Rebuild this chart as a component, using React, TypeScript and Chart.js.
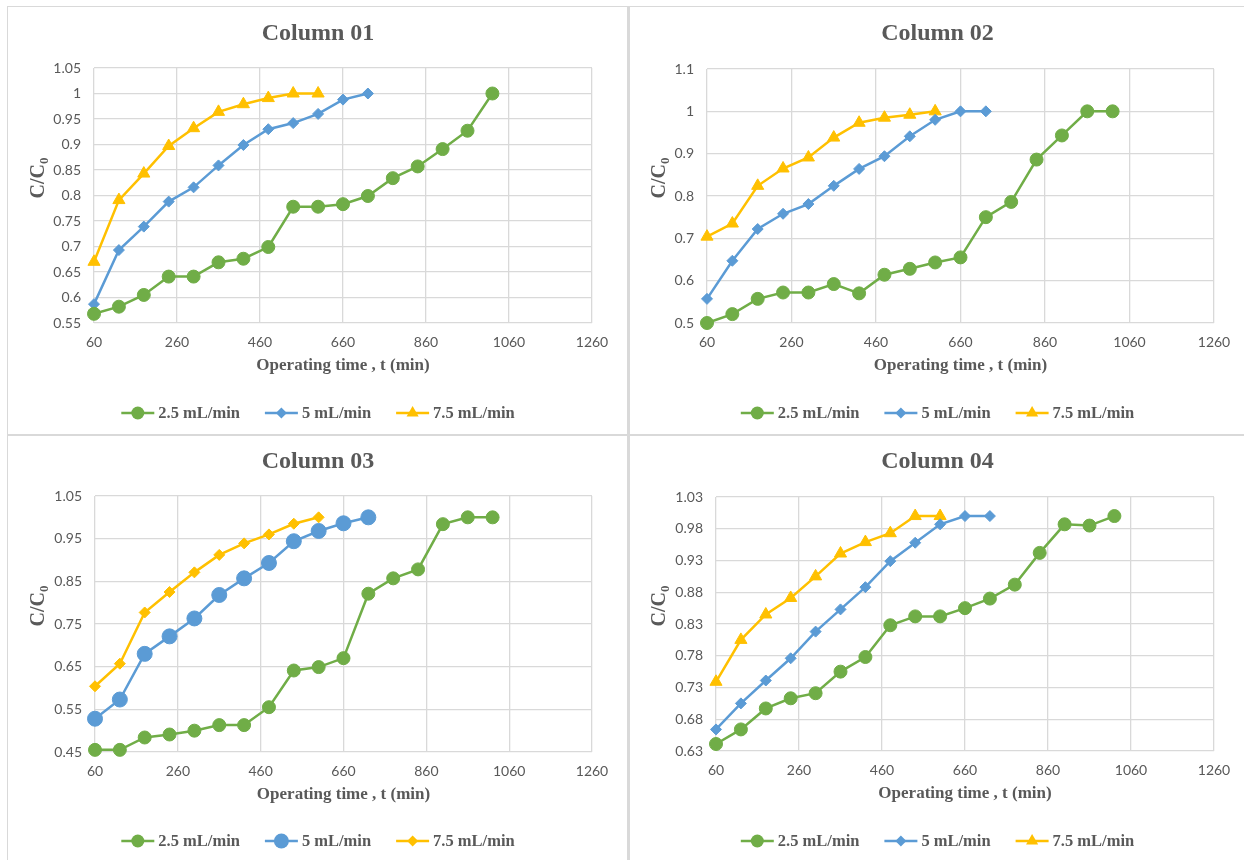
import React, { useEffect, useRef } from "react";
import { Chart, registerables } from "chart.js";

Chart.register(...registerables);

// Sampling times (min), shared by every column
const timeMin = [60, 120, 180, 240, 300, 360, 420, 480, 540, 600, 660, 720, 780, 840, 900, 960, 1020];
const xTickValues = [60, 260, 460, 660, 860, 1060, 1260];
const flowLabels = ["2.5 mL/min", "5 mL/min", "7.5 mL/min"];

// Column 01 — C/C0 per flow rate
const col01Flow25 = [0.568, 0.582, 0.605, 0.641, 0.641, 0.669, 0.676, 0.699, 0.778, 0.778, 0.783, 0.799, 0.834, 0.857, 0.891, 0.927, 1.0];
const col01Flow5 = [0.587, 0.693, 0.739, 0.788, 0.816, 0.859, 0.899, 0.93, 0.942, 0.96, 0.988, 1.0];
const col01Flow75 = [0.67, 0.791, 0.843, 0.897, 0.932, 0.964, 0.979, 0.991, 1.0, 1.0];
const col01YTicks = [0.55, 0.6, 0.65, 0.7, 0.75, 0.8, 0.85, 0.9, 0.95, 1, 1.05];

// Column 02
const col02Flow25 = [0.5, 0.521, 0.557, 0.572, 0.572, 0.592, 0.57, 0.614, 0.628, 0.643, 0.655, 0.75, 0.786, 0.886, 0.943, 1.0, 1.0];
const col02Flow5 = [0.557, 0.647, 0.722, 0.758, 0.781, 0.824, 0.864, 0.894, 0.941, 0.98, 1.0, 1.0];
const col02Flow75 = [0.704, 0.735, 0.824, 0.865, 0.891, 0.938, 0.973, 0.985, 0.992, 1.0];
const col02YTicks = [0.5, 0.6, 0.7, 0.8, 0.9, 1, 1.1];

// Column 03
const col03Flow25 = [0.455, 0.455, 0.484, 0.491, 0.5, 0.513, 0.513, 0.555, 0.641, 0.649, 0.67, 0.821, 0.857, 0.878, 0.984, 1.0, 1.0];
const col03Flow5 = [0.528, 0.573, 0.68, 0.721, 0.763, 0.818, 0.857, 0.893, 0.944, 0.968, 0.986, 1.0];
const col03Flow75 = [0.604, 0.657, 0.777, 0.825, 0.871, 0.912, 0.939, 0.96, 0.985, 1.0];
const col03YTicks = [0.45, 0.55, 0.65, 0.75, 0.85, 0.95, 1.05];

// Column 04
const col04Flow25 = [0.641, 0.664, 0.697, 0.713, 0.721, 0.755, 0.778, 0.828, 0.842, 0.842, 0.855, 0.87, 0.892, 0.942, 0.987, 0.985, 1.0];
const col04Flow5 = [0.664, 0.705, 0.741, 0.776, 0.818, 0.853, 0.888, 0.929, 0.958, 0.987, 1.0, 1.0];
const col04Flow75 = [0.739, 0.805, 0.845, 0.871, 0.905, 0.941, 0.959, 0.973, 1.0, 1.0];
const col04YTicks = [0.63, 0.68, 0.73, 0.78, 0.83, 0.88, 0.93, 0.98, 1.03];

const SERIES_COLORS = ["#70AD47", "#5B9BD5", "#FFC000"];
const TEXT_GRAY = "#595959";
const GRID_GRAY = "#d9d9d9";
const SERIF = '"Liberation Serif", "Times New Roman", serif';
const SANS = 'Lato, "Open Sans", sans-serif';

type MarkerStyle = "circle" | "rectRot" | "triangle";
type Marker = { style: MarkerStyle; radius: number };

type PanelSpec = {
  title: string;
  series: number[][];
  yTicks: number[];
  markers: Marker[];
  left: number;
  top: number;
  width: number;
  height: number;
  plot: { l: number; r: number; t: number; b: number };
  yTitleX: number;
  yTitleY: number;
};

const circle = (radius: number): Marker => ({ style: "circle", radius });
const diamond = (radius: number): Marker => ({ style: "rectRot", radius });
const triangle = (radius: number): Marker => ({ style: "triangle", radius });

const panels: PanelSpec[] = [
  {
    title: "Column 01",
    series: [col01Flow25, col01Flow5, col01Flow75],
    yTicks: col01YTicks,
    markers: [circle(6.5), diamond(5.5), triangle(7)],
    left: 8, top: 8, width: 620, height: 426,
    plot: { l: 86, r: 584, t: 60, b: 315 },
    yTitleX: 31, yTitleY: 170,
  },
  {
    title: "Column 02",
    series: [col02Flow25, col02Flow5, col02Flow75],
    yTicks: col02YTicks,
    markers: [circle(6.5), diamond(5.5), triangle(7)],
    left: 631, top: 8, width: 613, height: 426,
    plot: { l: 76, r: 583, t: 61, b: 315 },
    yTitleX: 29, yTitleY: 170,
  },
  {
    title: "Column 03",
    series: [col03Flow25, col03Flow5, col03Flow75],
    yTicks: col03YTicks,
    markers: [circle(6.5), circle(7.5), diamond(5.5)],
    left: 8, top: 436, width: 620, height: 424,
    plot: { l: 87, r: 584, t: 60, b: 316 },
    yTitleX: 31, yTitleY: 170,
  },
  {
    title: "Column 04",
    series: [col04Flow25, col04Flow5, col04Flow75],
    yTicks: col04YTicks,
    markers: [circle(6.5), diamond(5.5), triangle(7)],
    left: 631, top: 436, width: 613, height: 424,
    plot: { l: 85, r: 583, t: 61, b: 315 },
    yTitleX: 29, yTitleY: 170,
  },
];

function formatTick(v: number | string): string {
  return String(parseFloat(Number(v).toFixed(2)));
}

function drawMarker(ctx: CanvasRenderingContext2D, m: Marker, x: number, y: number, color: string) {
  const r = m.radius;
  ctx.beginPath();
  if (m.style === "circle") {
    ctx.arc(x, y, r, 0, Math.PI * 2);
  } else if (m.style === "rectRot") {
    ctx.moveTo(x - r, y);
    ctx.lineTo(x, y - r);
    ctx.lineTo(x + r, y);
    ctx.lineTo(x, y + r);
    ctx.closePath();
  } else {
    const s = Math.sin((2 * Math.PI) / 3) * r;
    ctx.moveTo(x, y - r);
    ctx.lineTo(x + s, y + r / 2);
    ctx.lineTo(x - s, y + r / 2);
    ctx.closePath();
  }
  ctx.fillStyle = color;
  ctx.fill();
}

// Draws the panel title, axis titles and the line+marker legend
const panelDecor = {
  id: "panelDecor",
  afterDraw(chart: any, _args: any, opts: any) {
    const { ctx, chartArea, width } = chart;
    ctx.save();
    ctx.fillStyle = TEXT_GRAY;
    ctx.textBaseline = "middle";

    // chart title
    ctx.textAlign = "center";
    ctx.font = `bold 24px ${SERIF}`;
    ctx.fillText(opts.title, width / 2, 26);

    // x-axis title
    ctx.font = `bold 17px ${SERIF}`;
    ctx.fillText("Operating time , t (min)", (chartArea.left + chartArea.right) / 2, chartArea.bottom + 43);

    // y-axis title C/C0 with subscript
    ctx.save();
    ctx.translate(opts.yTitleX, opts.yTitleY);
    ctx.rotate(-Math.PI / 2);
    const mainFont = `bold 20px ${SERIF}`;
    const subFont = `bold 13px ${SERIF}`;
    ctx.font = mainFont;
    const wMain = ctx.measureText("C/C").width;
    ctx.font = subFont;
    const wSub = ctx.measureText("0").width;
    const start = -(wMain + wSub) / 2;
    ctx.textAlign = "left";
    ctx.font = mainFont;
    ctx.fillText("C/C", start, 0);
    ctx.font = subFont;
    ctx.fillText("0", start + wMain, 6);
    ctx.restore();

    // legend
    const markers: Marker[] = opts.markers;
    const lineLen = 33;
    const gap = 4;
    const itemGap = 25;
    ctx.font = `bold 16.5px ${SERIF}`;
    const textW = flowLabels.map((t) => ctx.measureText(t).width);
    const total = textW.reduce((a, w) => a + lineLen + gap + w, 0) + itemGap * (flowLabels.length - 1);
    let x = width / 2 - total / 2;
    const ly = opts.legendY;
    flowLabels.forEach((label, i) => {
      const color = SERIES_COLORS[i];
      ctx.strokeStyle = color;
      ctx.lineWidth = 2.5;
      ctx.beginPath();
      ctx.moveTo(x, ly);
      ctx.lineTo(x + lineLen, ly);
      ctx.stroke();
      drawMarker(ctx, markers[i], x + lineLen / 2, ly, color);
      ctx.fillStyle = TEXT_GRAY;
      ctx.textAlign = "left";
      ctx.fillText(label, x + lineLen + gap, ly + 1);
      x += lineLen + gap + textW[i] + itemGap;
    });
    ctx.restore();
  },
};

function Panel({ spec }: { spec: PanelSpec }) {
  const ref = useRef<HTMLCanvasElement | null>(null);

  useEffect(() => {
    const canvas = ref.current;
    if (!canvas) return;
    const datasets = spec.series.map((vals, i) => ({
      label: flowLabels[i],
      data: vals.map((y, j) => ({ x: timeMin[j], y })),
      borderColor: SERIES_COLORS[i],
      backgroundColor: SERIES_COLORS[i],
      borderWidth: 2.5,
      pointStyle: spec.markers[i].style,
      pointRadius: spec.markers[i].radius,
      pointHoverRadius: spec.markers[i].radius,
      pointBorderWidth: 1,
      pointBorderColor: SERIES_COLORS[i],
      pointBackgroundColor: SERIES_COLORS[i],
      tension: 0,
      clip: false as const,
    }));

    const yMin = spec.yTicks[0];
    const yMax = spec.yTicks[spec.yTicks.length - 1];
    const axisHeight = spec.height - spec.plot.b;
    const axisWidth = spec.plot.l;

    const chart = new Chart(canvas, {
      type: "line",
      data: { datasets },
      plugins: [panelDecor],
      options: {
        responsive: false,
        animation: false,
        devicePixelRatio: 1,
        events: [],
        layout: { padding: { left: 0, top: spec.plot.t, right: spec.width - spec.plot.r, bottom: 0 } },
        plugins: {
          legend: { display: false },
          tooltip: { enabled: false },
          title: { display: false },
          panelDecor: {
            title: spec.title,
            markers: spec.markers,
            yTitleX: spec.yTitleX,
            yTitleY: spec.yTitleY,
            legendY: 405,
          },
        } as any,
        scales: {
          x: {
            type: "linear",
            min: xTickValues[0],
            max: xTickValues[xTickValues.length - 1],
            afterBuildTicks: (s: any) => {
              s.ticks = xTickValues.map((v) => ({ value: v }));
            },
            afterFit: (s: any) => {
              s.height = axisHeight;
            },
            grid: { color: GRID_GRAY, lineWidth: 1.3, drawTicks: false },
            border: { display: false },
            ticks: {
              color: TEXT_GRAY,
              font: { family: SANS, size: 14 },
              padding: 11,
              maxRotation: 0,
              autoSkip: false,
              callback: (v: any) => String(v),
            },
          },
          y: {
            type: "linear",
            min: yMin,
            max: yMax,
            afterBuildTicks: (s: any) => {
              s.ticks = spec.yTicks.map((v) => ({ value: v }));
            },
            afterFit: (s: any) => {
              s.width = axisWidth;
            },
            grid: { color: GRID_GRAY, lineWidth: 1.3, drawTicks: false },
            border: { display: false },
            ticks: {
              color: TEXT_GRAY,
              font: { family: SANS, size: 14 },
              padding: 13,
              autoSkip: false,
              callback: (v: any) => formatTick(v),
            },
          },
        },
      } as any,
    });
    return () => chart.destroy();
  }, [spec]);

  return (
    <canvas
      ref={ref}
      width={spec.width}
      height={spec.height}
      style={{ position: "absolute", left: spec.left, top: spec.top, width: spec.width, height: spec.height }}
    />
  );
}

export default function App() {
  const line = (left: number, top: number, width: number, height: number) => (
    <div style={{ position: "absolute", left, top, width, height, background: GRID_GRAY }} />
  );
  return (
    <div style={{ position: "absolute", left: 0, top: 0, width: 1244, height: 860, background: "#ffffff", overflow: "hidden" }}>
      {line(7, 6, 1237, 1)}
      {line(7, 6, 1, 854)}
      {line(627, 6, 3, 854)}
      {line(7, 434, 1237, 2)}
      {panels.map((p) => (
        <Panel key={p.title} spec={p} />
      ))}
    </div>
  );
}
